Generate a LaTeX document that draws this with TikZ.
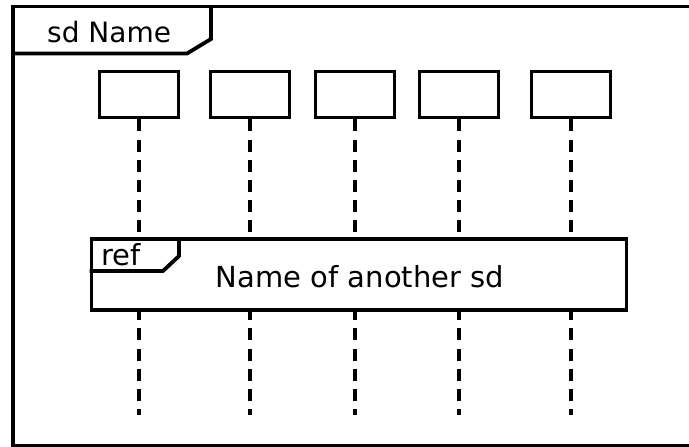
\documentclass[tikz,border=0pt]{standalone}
\usepackage{fontspec}
\setmainfont{DejaVu Sans}
\begin{document}
\begin{tikzpicture}[x=1pt,y=-1pt,
  frameline/.style={line width=3.8pt, line join=miter},
  objbox/.style={draw, line width=3.8pt, minimum width=79pt, minimum height=46pt, inner sep=0pt},
  lifeline/.style={line width=3.6pt, dash pattern=on 12pt off 8.2pt},
  lbl/.style={inner sep=0pt, anchor=base west, font=\fontsize{29}{29}\selectfont}]
  \useasboundingbox (0,0) rectangle (689,447);

  % outer sequence diagram frame with its name tab
  \draw[frameline] (13,6.5) rectangle (692,445.5);
  \draw[frameline] (13,53.5) -- (187,53.5) -- (211,39) -- (211,6.5);
  \node[lbl, font=\fontsize{28}{28}\selectfont] (sdname) at (47,42) {sd Name};

  % participants
  \node[objbox] (p1) at (139,94.5) {};
  \node[objbox] (p2) at (250,94.5) {};
  \node[objbox] (p3) at (355,94.5) {};
  \node[objbox] (p4) at (459,94.5) {};
  \node[objbox] (p5) at (571,94.5) {};

  % interaction use (ref fragment)
  \node[draw, line width=3.8pt, inner sep=0pt, minimum width=535pt, minimum height=71pt]
    (ref) at (359,274.8) {};
  \draw[line width=3.8pt] (ref.west |- 0,271) -- (163,271) -- (179,256) -- (179,239.3);
  \node[lbl] (reflbl) at (101,265) {ref};
  \node[lbl, anchor=base] (refname) at (360,287) {Name of another sd};

  % lifelines above and below the ref fragment
  \foreach \p in {p1,p2,p3,p4,p5}{
    \draw[lifeline] (\p.south) -- (\p.south |- ref.north);
    \coordinate (\p end) at (\p.south |- 0,415);
    \draw[lifeline, dash phase=4pt] (\p.south |- ref.south) -- (\p end);
  }
\end{tikzpicture}
\end{document}
